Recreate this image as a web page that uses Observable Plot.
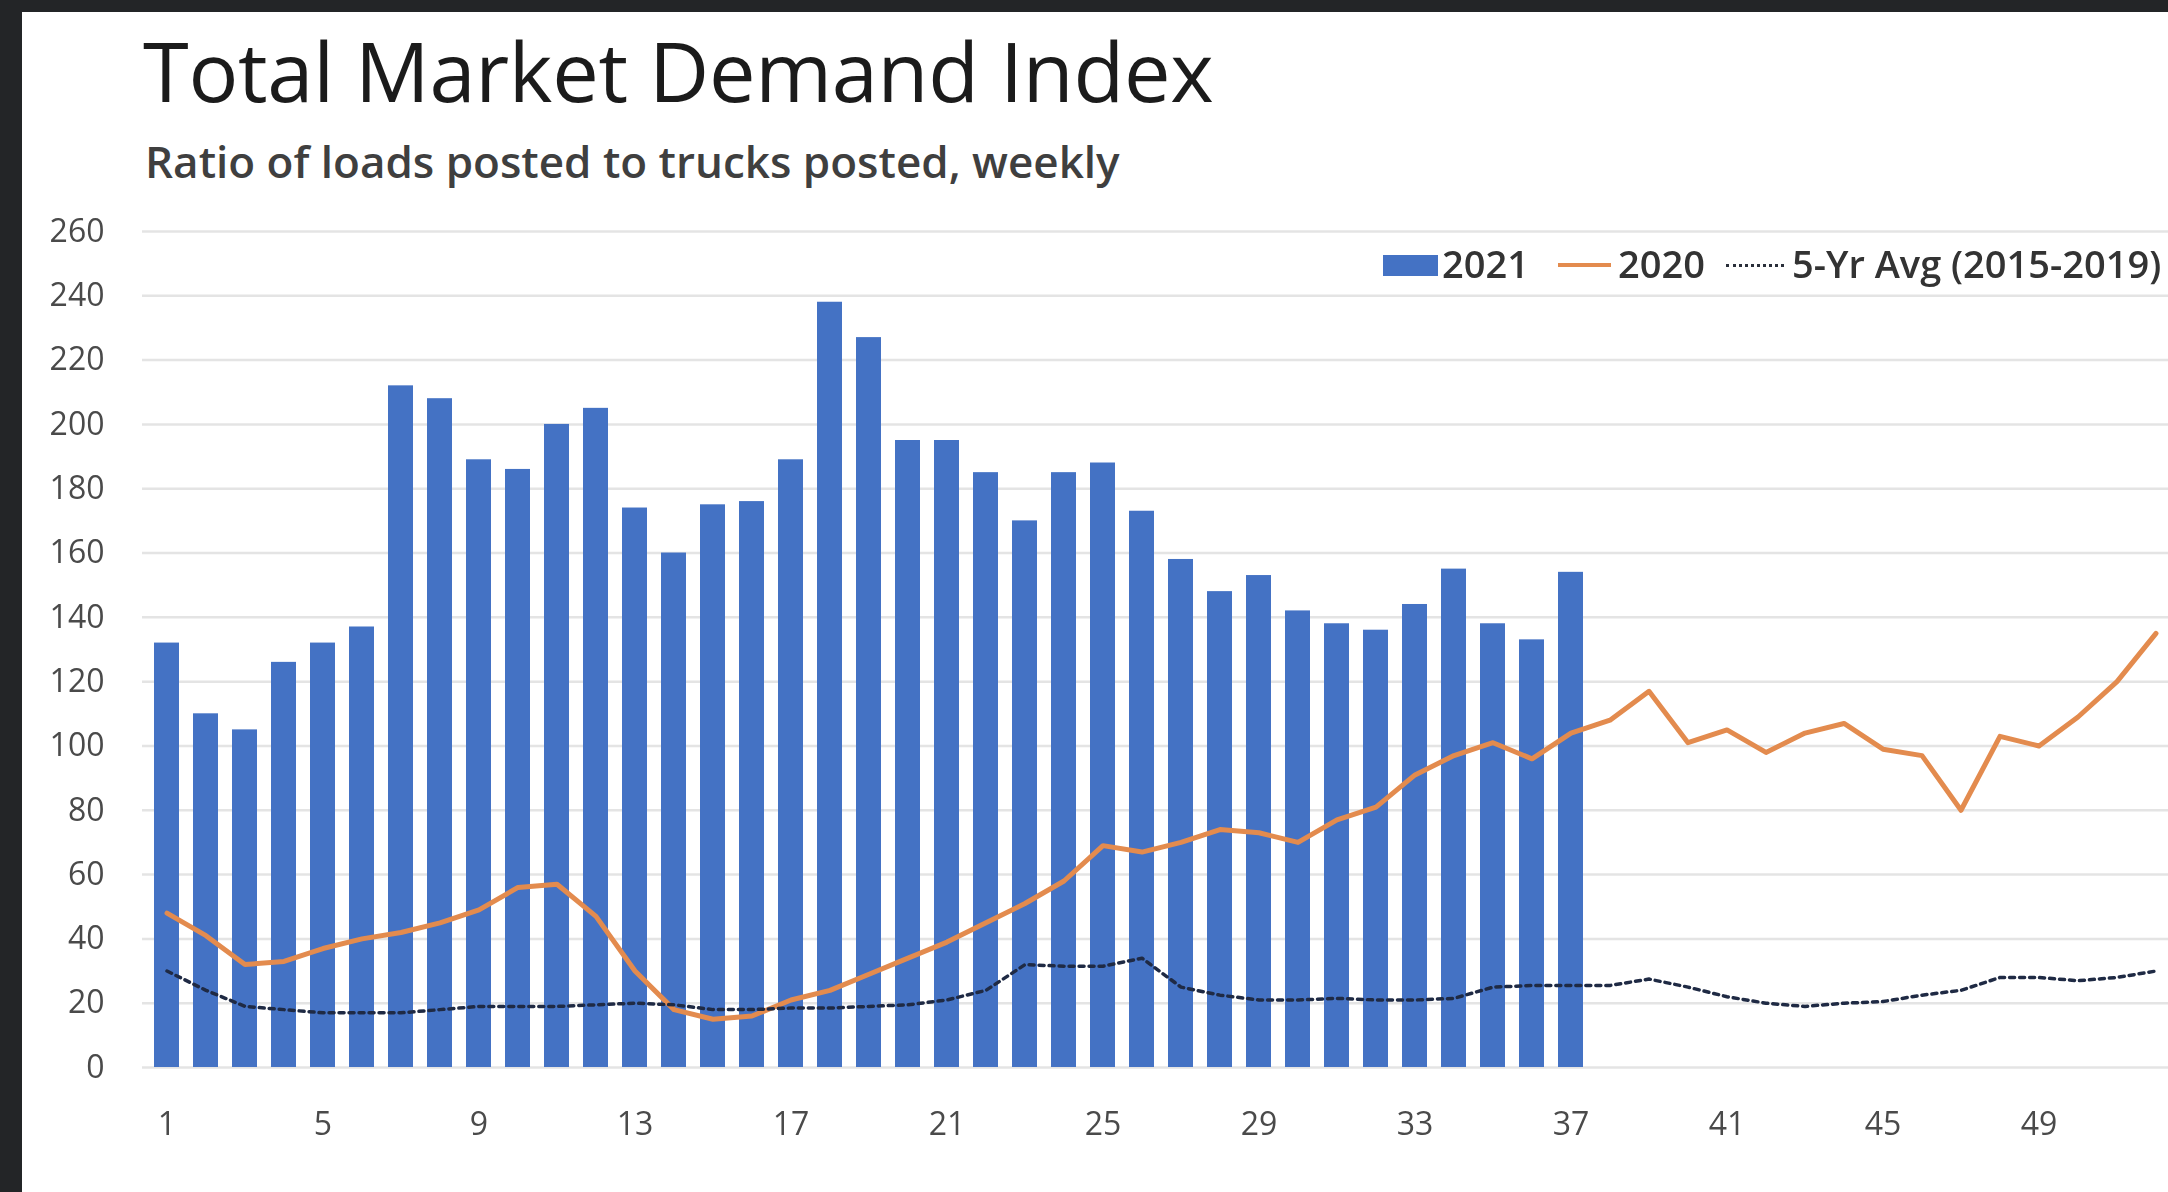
<!DOCTYPE html>
<html>
<head>
<meta charset="utf-8">
<script src="https://cdn.jsdelivr.net/npm/d3@7"></script>
<script src="https://cdn.jsdelivr.net/npm/@observablehq/plot@0.6"></script>
<style>
  html, body { margin: 0; padding: 0; overflow: hidden; background: #ffffff; }
  body { height: 1192px; position: relative; font-family: "Open Sans", "Noto Sans", sans-serif; }
  #bandTop { position: fixed; left: 0; top: 0; width: 100vw; height: 12px; background: #232527; }
  #bandLeft { position: fixed; left: 0; top: 0; width: 22px; height: 100vh; background: #232527; }
  #title { position: absolute; left: 143px; top: 28px; font-size: 83px; line-height: 1; color: #1b1b1b; white-space: nowrap; letter-spacing: -0.3px; }
  #subtitle { position: absolute; left: 145px; top: 139px; font-size: 44px; line-height: 1; color: #3f3f3f; white-space: nowrap; font-weight: 600; }
  #chart { position: absolute; left: 0; top: 190px; width: 2168px; height: 1002px; overflow: hidden; }
  .lg { position: absolute; }
  .lgtext { position: absolute; top: 244px; font-size: 38px; line-height: 1; color: #333; white-space: nowrap; font-weight: 600; }
</style>
</head>
<body>
<div id="bandTop"></div>
<div id="bandLeft"></div>
<div id="title">Total Market Demand Index</div>
<div id="subtitle">Ratio of loads posted to trucks posted, weekly</div>
<div id="chart"></div>
<div id="legend">
  <div class="lg" style="left:1383px; top:255px; width:55px; height:21px; background:#4472c4;"></div>
  <div class="lgtext" style="left:1442px;">2021</div>
  <div class="lg" style="left:1558px; top:263px; width:53px; height:0; border-top:4px solid #e38b4e;"></div>
  <div class="lgtext" style="left:1618px;">2020</div>
  <div class="lg" style="left:1726px; top:264px; width:58px; height:0; border-top:3px dotted #2a2f3a;"></div>
  <div class="lgtext" style="left:1792px;">5-Yr Avg (2015-2019)</div>
</div>
<script>
// Week numbers (x categories)
const weeks = d3.range(1, 53);
// 2021 weekly ratio (bars), weeks 1-37
const demand2021 = [132, 110, 105, 126, 132, 137, 212, 208, 189, 186, 200, 205, 174, 160, 175, 176, 189,
  238, 227, 195, 195, 185, 170, 185, 188, 173, 158, 148, 153, 142, 138, 136, 144, 155, 138, 133, 154];
// 2020 weekly ratio (line), weeks 1-52
const demand2020 = [48, 41, 32, 33, 37, 40, 42, 45, 49, 56, 57, 47, 30, 18, 15, 16, 21, 24, 29, 34,
  39, 45, 51, 58, 69, 67, 70, 74, 73, 70, 77, 81, 91, 97, 101, 96, 104, 108, 117, 101,
  105, 98, 104, 107, 99, 97, 80, 103, 100, 109, 120, 135];
// 5-year average 2015-2019 (dotted line), weeks 1-52
const avg5yr = [30, 24, 19, 18, 17, 17, 17, 18, 19, 19, 19, 19.5, 20, 19.5, 18, 18, 18.5, 18.5, 19, 19.5,
  21, 24, 32, 31.5, 31.5, 34, 25, 22.5, 21, 21, 21.5, 21, 21, 21.5, 25, 25.5, 25.5, 25.5, 27.5, 25,
  22, 20, 19, 20, 20.5, 22.5, 24, 28, 28, 27, 28, 30];
// Tick labels
const yTicks = [0, 20, 40, 60, 80, 100, 120, 140, 160, 180, 200, 220, 240, 260];
const xTicks = [1, 5, 9, 13, 17, 21, 25, 29, 33, 37, 41, 45, 49];

const bars = demand2021.map((v, i) => ({week: weeks[i], value: v}));
const line2020 = demand2020.map((v, i) => ({week: weeks[i], value: v}));
const lineAvg = avg5yr.map((v, i) => ({week: weeks[i], value: v}));

const chart = Plot.plot({
  width: 2168,
  height: 1002,
  marginTop: 41,
  marginBottom: 125,
  marginLeft: 142,
  marginRight: -11,
  style: {background: "transparent", overflow: "hidden", maxWidth: "none", fontFamily: "'Open Sans', 'Noto Sans', sans-serif"},
  x: {type: "band", domain: weeks, paddingInner: 0.36, paddingOuter: 0.18, label: null},
  y: {domain: [0, 260], label: null},
  marks: [
    Plot.ruleY(yTicks, {stroke: "#e4e4e4", strokeWidth: 2.5}),
    Plot.barY(bars, {x: "week", y: "value", fill: "#4472c4"}),
    Plot.lineY(line2020, {x: "week", y: "value", stroke: "#e38b4e", strokeWidth: 5}),
    Plot.lineY(lineAvg, {x: "week", y: "value", stroke: "#1f2a44", strokeWidth: 3.5, strokeDasharray: "5,5"}),
    Plot.axisX({ticks: xTicks, tickSize: 0, tickPadding: 45, fontSize: 32, fill: "#4a4a4a", label: null}),
    Plot.axisY({ticks: yTicks, tickSize: 0, tickPadding: 38, fontSize: 32, fill: "#4a4a4a", label: null})
  ]
});
document.getElementById("chart").appendChild(chart);
</script>
</body>
</html>
